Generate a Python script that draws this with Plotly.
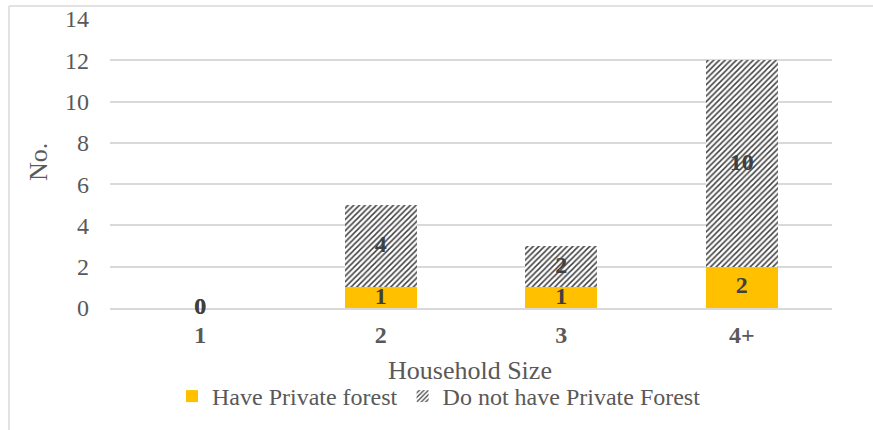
import plotly.graph_objects as go

# Households by size, split by private forest ownership
categories = ["1", "2", "3", "4+"]
have_forest = [0, 1, 1, 2]
no_forest = [0, 4, 2, 10]

series_names = ["Have Private forest", "Do not have Private Forest"]

FONT = "Liberation Serif, Times New Roman, serif"
GRAY = "#595959"
LABEL = "#404040"
GRID = "#D9D9D9"

W, H = 873, 430
ML, MR, MT, MB = 110, 41, 19, 122
PW, PH = W - ML - MR, H - MT - MB


def px_x(p):
    return (p - ML) / PW


def px_y(p):
    return (H - MB - p) / PH


fig = go.Figure()

fig.add_trace(go.Bar(
    x=categories, y=have_forest, name=series_names[0],
    marker=dict(color="#FFC000", line=dict(width=0)),
    width=0.4,
))
fig.add_trace(go.Bar(
    x=categories, y=no_forest, name=series_names[1],
    marker=dict(
        color="white",
        line=dict(width=0),
        pattern=dict(shape="/", fgcolor="#404040", bgcolor="white",
                     size=4, solidity=0.38, fillmode="replace"),
    ),
    width=0.4,
))

# Value labels centred in each stacked segment
mid_have = [v / 2 for v in have_forest]
mid_no = [h + v / 2 for h, v in zip(have_forest, no_forest)]
for mids, vals in ((mid_have, have_forest), (mid_no, no_forest)):
    fig.add_trace(go.Scatter(
        x=categories, y=mids, mode="text",
        text=[str(v) for v in vals],
        textfont=dict(family=FONT, size=24, color=LABEL),
        texttemplate="<b>%{text}</b>",
        cliponaxis=False,
        showlegend=False, hoverinfo="skip",
    ))

fig.update_layout(
    width=W, height=H,
    margin=dict(l=ML, r=MR, t=MT, b=MB, autoexpand=False),
    barmode="stack",
    plot_bgcolor="white", paper_bgcolor="white",
    font=dict(family=FONT, color=GRAY, size=24),
    showlegend=True,
    legend=dict(
        orientation="h", xref="container", yref="container",
        x=172 / W, xanchor="left", y=1 - 374 / H, yanchor="top",
        font=dict(family=FONT, size=24, color=GRAY),
        itemwidth=30, tracegroupgap=0, traceorder="normal",
        bgcolor="rgba(0,0,0,0)",
    ),
    xaxis=dict(
        type="category", automargin=False, layer="below traces",
        showline=True, linecolor=GRID, linewidth=1.5,
        showgrid=False, ticks="",
        tickfont=dict(family=FONT, size=24, color=GRAY),
        ticklabelstandoff=4,
        tickprefix="<b>", ticksuffix="</b>",
    ),
    yaxis=dict(
        range=[0, 14], dtick=2, automargin=False, layer="below traces",
        showgrid=True, gridcolor=GRID, gridwidth=1.5,
        zeroline=False, showline=False, ticks="",
        tickfont=dict(family=FONT, size=24, color=GRAY),
        ticklabelstandoff=20,
    ),
    annotations=[
        dict(text="No.", xref="paper", yref="paper", x=px_x(38), y=px_y(162),
             xanchor="center", yanchor="middle", textangle=-90, showarrow=False,
             font=dict(family=FONT, size=26, color=GRAY)),
        dict(text="Household Size", xref="paper", yref="paper", x=px_x(470), y=px_y(370),
             xanchor="center", yanchor="middle", showarrow=False,
             font=dict(family=FONT, size=26, color=GRAY)),
    ],
    shapes=[
        # outer chart frame: top and left edges
        dict(type="line", xref="paper", yref="paper", x0=px_x(9), x1=px_x(W),
             y0=px_y(6), y1=px_y(6), line=dict(color=GRID, width=1.5)),
        dict(type="line", xref="paper", yref="paper", x0=px_x(9), x1=px_x(9),
             y0=px_y(6), y1=px_y(H), line=dict(color=GRID, width=1.5)),
    ],
)

fig.write_html("out.html")
